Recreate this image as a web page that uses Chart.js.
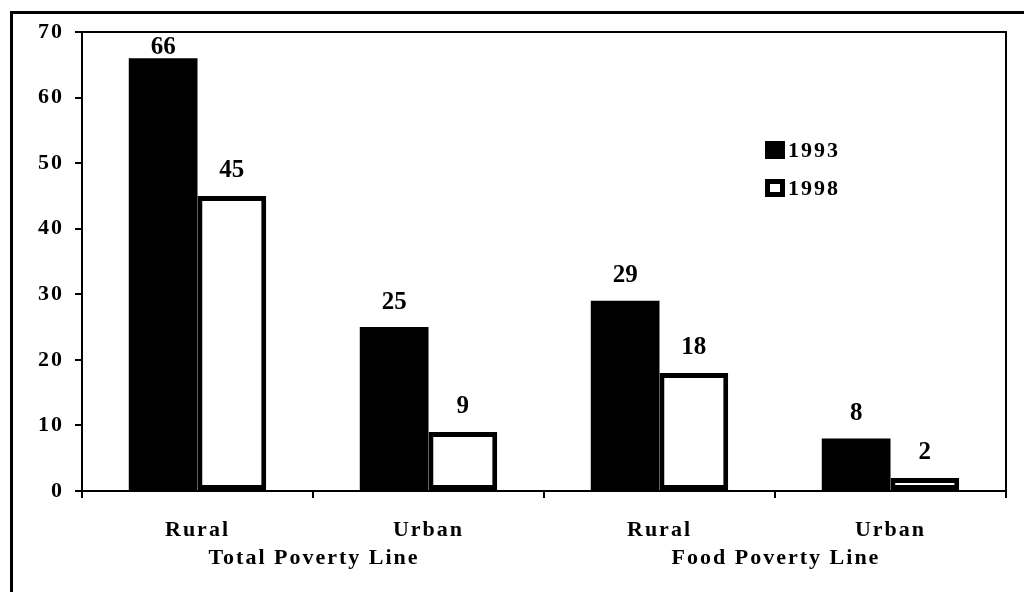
<!DOCTYPE html>
<html>
<head>
<meta charset="utf-8">
<script src="https://cdn.jsdelivr.net/npm/chart.js@4.4.0/dist/chart.umd.min.js"></script>
<style>
  html, body { margin: 0; padding: 0; background: #fff; }
  #wrap { width: 1024px; height: 592px; position: relative; }
</style>
</head>
<body>
<div id="wrap"><canvas id="povertyChart"></canvas></div>
<script>
// categories and series
const categories = ['Rural', 'Urban', 'Rural', 'Urban'];
const groups = ['Total Poverty Line', 'Food Poverty Line'];
const values1993 = [66, 25, 29, 8];
const values1998 = [45, 9, 18, 2];
const seriesNames = ['1993', '1998'];
const yTicks = [0, 10, 20, 30, 40, 50, 60, 70];

const FONT = '"Liberation Serif", "Times New Roman", serif';

function spacing(ctx) {
    ctx.letterSpacing = '2px';
}

// outer frame, plot box, value labels, group labels, legend
const extras = {
    id: 'extras',
    beforeDraw(chart) {
        spacing(chart.ctx);
    },
    afterDraw(chart) {
        const ctx = chart.ctx;
        const area = chart.chartArea;
        ctx.save();

        // outer frame
        ctx.strokeStyle = '#000';
        ctx.lineWidth = 3;
        ctx.strokeRect(11.5, 12.5, 1030, 600);

        // plot box top and right
        ctx.lineWidth = 2;
        ctx.beginPath();
        ctx.moveTo(area.left, area.top);
        ctx.lineTo(area.right, area.top);
        ctx.lineTo(area.right, area.bottom);
        ctx.stroke();

        // values above bars
        ctx.letterSpacing = '0px';
        ctx.fillStyle = '#000';
        ctx.font = 'bold 25px ' + FONT;
        ctx.textAlign = 'center';
        ctx.textBaseline = 'middle';
        chart.data.datasets.forEach((ds, i) => {
            chart.getDatasetMeta(i).data.forEach((bar, j) => {
                const y = Math.max(bar.y - 25, area.top + 16);
                ctx.fillText(String(ds.data[j]), bar.x, y);
            });
        });

        // group labels under the category labels
        spacing(ctx);
        ctx.font = 'bold 22px ' + FONT;
        const xs = chart.scales.x;
        groups.forEach((g, k) => {
            const x = (xs.getPixelForValue(k * 2) + xs.getPixelForValue(k * 2 + 1)) / 2 + 1;
            ctx.fillText(g, x, 558);
        });

        // legend
        ctx.textAlign = 'left';
        ctx.font = 'bold 22px ' + FONT;
        chart.data.datasets.forEach((ds, i) => {
            const cy = 150 + i * 38;
            ctx.fillStyle = '#000';
            ctx.fillRect(765, cy - 9, 20, 18);
            if (i === 1) {
                ctx.fillStyle = '#fff';
                ctx.fillRect(770, cy - 4, 10, 8);
            }
            ctx.fillStyle = '#000';
            ctx.fillText(ds.label, 788, cy + 1);
        });
        ctx.restore();
    }
};

const ctx = document.getElementById('povertyChart').getContext('2d');
const chart = new Chart(ctx, {
    type: 'bar',
    data: {
        labels: categories,
        datasets: [
            {
                label: seriesNames[0],
                data: values1993,
                backgroundColor: '#000',
                borderColor: '#000',
                borderWidth: 0
            },
            {
                label: seriesNames[1],
                data: values1998,
                backgroundColor: '#fff',
                borderColor: '#000',
                borderWidth: 5,
                borderSkipped: false
            }
        ]
    },
    options: {
        responsive: true,
        maintainAspectRatio: false,
        animation: false,
        layout: {
            padding: { left: 10, top: 32, right: 18, bottom: 0 }
        },
        plugins: {
            legend: { display: false },
            tooltip: { enabled: false }
        },
        datasets: {
            bar: {
                categoryPercentage: 0.595,
                barPercentage: 1
            }
        },
        scales: {
            x: {
                offset: true,
                afterFit(scale) { scale.height = 101; },
                grid: {
                    offset: true,
                    drawOnChartArea: false,
                    drawTicks: true,
                    tickLength: 7,
                    color: '#000',
                    lineWidth: 2
                },
                border: { color: '#000', width: 2 },
                ticks: {
                    color: '#000',
                    padding: 19,
                    font: { family: FONT, size: 22, weight: 'bold' }
                }
            },
            y: {
                min: 0,
                max: 70,
                afterFit(scale) { scale.width = 72; },
                afterBuildTicks(scale) {
                    scale.ticks = yTicks.map(v => ({ value: v }));
                },
                grid: {
                    drawOnChartArea: false,
                    drawTicks: true,
                    tickLength: 7,
                    color: '#000',
                    lineWidth: 2
                },
                border: { color: '#000', width: 2 },
                ticks: {
                    color: '#000',
                    padding: 11,
                    font: { family: FONT, size: 22, weight: 'bold' }
                }
            }
        }
    },
    plugins: [extras]
});
</script>
</body>
</html>
